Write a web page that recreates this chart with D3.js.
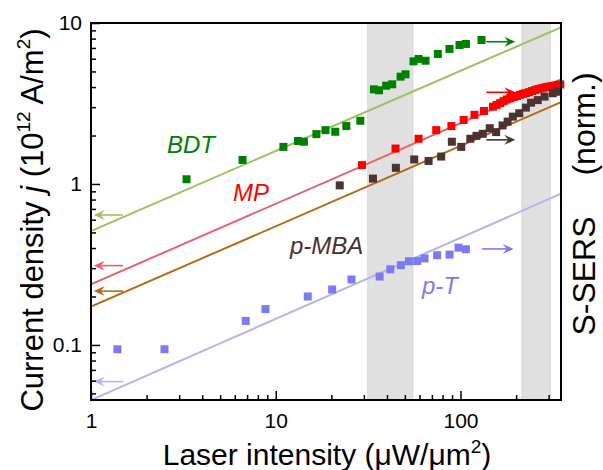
<!DOCTYPE html>
<html><head><meta charset="utf-8">
<script src="https://cdn.jsdelivr.net/npm/d3@7"></script>
<style>body{margin:0;background:#fff}svg{display:block}</style>
</head><body><svg id="c" width="603" height="470"></svg>
<script>
// ---- data ----
const xMajor = [1, 10, 100];
const yMajor = [0.1, 1, 10];
const xMinor = [2,3,4,5,6,7,8,9,20,30,40,50,60,70,80,90,200,300];
const yMinor = [0.05,0.06,0.07,0.08,0.09,0.2,0.3,0.4,0.5,0.6,0.7,0.8,0.9,2,3,4,5,6,7,8,9];

const bands = [[31.5, 55.2], [215, 306]];

const bdtX = [3.29, 6.61, 11.0, 13.2, 14.2, 16.6, 18.6, 21.0, 24.1, 28.7, 34.0, 36.2, 39.6, 42.7, 47.4, 50.4, 55.7, 59.3, 64.7, 75.4, 87.2, 98.8, 107, 130];
const bdtY = [1.07, 1.41, 1.70, 1.85, 1.83, 2.04, 2.16, 2.11, 2.29, 2.47, 3.87, 3.82, 4.08, 4.16, 4.64, 4.80, 5.78, 5.98, 5.83, 6.42, 6.90, 7.30, 7.41, 7.84];

const mpX = [29.3, 44.5, 59.3, 73.9, 89.3, 104, 119, 134, 150, 157, 164, 171, 178, 186, 194, 202, 210, 218, 226, 235, 244, 253, 262, 272, 282, 292, 303, 314, 326, 338, 347];
const mpY = [1.31, 1.66, 1.91, 2.16, 2.29, 2.50, 2.69, 2.84, 3.02, 3.10, 3.18, 3.27, 3.35, 3.40, 3.47, 3.52, 3.58, 3.63, 3.67, 3.72, 3.78, 3.83, 3.88, 3.92, 3.96, 4.00, 4.03, 4.06, 4.09, 4.12, 4.15];

const mbaX = [22.2, 33.6, 44.7, 56.2, 67.2, 78.6, 89.8, 101, 113, 122, 132, 144, 156, 169, 180, 192, 208, 226, 241, 262, 285, 316, 336];
const mbaY = [0.98, 1.08, 1.26, 1.42, 1.39, 1.48, 1.83, 1.70, 1.91, 1.99, 2.05, 2.22, 2.10, 2.31, 2.44, 2.62, 2.75, 2.98, 3.20, 3.32, 3.49, 3.66, 3.74];

const ptX = [1.39, 2.50, 6.88, 8.80, 14.9, 20.2, 25.7, 36.5, 41.7, 47.6, 52.6, 58.3, 63.9, 74.8, 87.3, 97.6, 107];
const ptY = [0.094, 0.094, 0.141, 0.167, 0.200, 0.221, 0.255, 0.266, 0.295, 0.313, 0.331, 0.332, 0.345, 0.361, 0.364, 0.402, 0.393];

// fit lines: [x, y] endpoints
const fitBDT = [[1, 0.51], [350, 9.4]];
const fitMP  = [[1, 0.238], [350, 4.47]];
const fitMBA = [[1, 0.173], [350, 3.22]];
const fitPT  = [[1, 0.0455], [350, 0.87]];

// arrows: [xTail, xTip, y]
const leftArrows  = [[1.49, 1.035, 0.642], [1.49, 1.035, 0.311], [1.49, 1.035, 0.216], [1.49, 1.035, 0.0592]];
const rightArrows = [[138, 198, 7.65], [138, 198, 3.71], [138, 198, 1.88], [131, 194, 0.395]];

const series = [
  {name:"BDT", x:bdtX, y:bdtY, fit:fitBDT, mark:"#008000", line:"#9cc45c", text:"#008000", lab:[167, 153]},
  {name:"p-T", x:ptX, y:ptY, fit:fitPT, mark:"#7b7bf0", line:"#b4b4f2", text:"#7b7bf0", lab:[422, 294]},
  {name:"MP", x:mpX, y:mpY, fit:fitMP, mark:"#ff0000", line:"#e8636c", text:"#ff0000", lab:[233, 201]},
  {name:"p-MBA", x:mbaX, y:mbaY, fit:fitMBA, mark:"#4d3232", line:"#b86a14", text:"#4a2f2f", lab:[290, 254]}
];

// ---- drawing ----
const svg = d3.select("#c");
const FONT = "'Liberation Sans', Arial, sans-serif";
const L = 91, R = 561, T = 23, B = 400;
const x = d3.scaleLog().domain([1, 350]).range([L, R]);
const y = d3.scaleLog().domain([0.0455, 10]).range([B, T]);

// bands
svg.selectAll("rect.band").data(bands).enter().append("rect")
  .attr("x", d => x(d[0])).attr("width", d => x(d[1]) - x(d[0]))
  .attr("y", T).attr("height", B - T)
  .attr("fill", "#e0e0e0").attr("stroke", "#d6d6d6").attr("stroke-width", 1);

svg.append("clipPath").attr("id","clp").append("rect")
  .attr("x", L).attr("y", T).attr("width", R-L).attr("height", B-T);

// fit lines
const lineGen = d3.line().x(d => x(d[0])).y(d => y(d[1]));
series.forEach(s => {
  svg.append("path").attr("d", lineGen(s.fit)).attr("fill","none")
    .attr("stroke", s.line).attr("stroke-width", 2).attr("clip-path","url(#clp)");
});

// markers
const S = 8;
series.forEach(s => {
  svg.append("g").selectAll("rect").data(s.x.map((v,i)=>[v, s.y[i]])).enter().append("rect")
    .attr("x", d => x(d[0]) - S/2).attr("y", d => y(d[1]) - S/2)
    .attr("width", S).attr("height", S).attr("fill", s.mark);
});

// arrows
function arrow(x1, x2, yy, color) {
  const X1 = x(x1), X2 = x(x2), Y = y(yy);
  const dir = X2 > X1 ? 1 : -1;
  svg.append("line").attr("x1", X1).attr("x2", X2 - dir*4).attr("y1", Y).attr("y2", Y)
    .attr("stroke", color).attr("stroke-width", 1.6);
  const p = d3.path();
  p.moveTo(X2, Y);
  p.lineTo(X2 - dir*11, Y - 5);
  p.lineTo(X2 - dir*7, Y);
  p.lineTo(X2 - dir*11, Y + 5);
  p.closePath();
  svg.append("path").attr("d", p.toString()).attr("fill", color);
}
const lineOrder = [series[0], series[2], series[3], series[1]];
leftArrows.forEach((a,i) => arrow(a[0], a[1], a[2], lineOrder[i].line));
rightArrows.forEach((a,i) => arrow(a[0], a[1], a[2], lineOrder[i].mark));

// labels
series.forEach(s => {
  svg.append("text").attr("x", s.lab[0]).attr("y", s.lab[1]).text(s.name)
    .attr("font-family", FONT).attr("font-style","italic").attr("font-size", 24)
    .attr("fill", s.text);
});

// axes
function styleAxis(g){ g.select(".domain").remove(); g.selectAll("line").attr("stroke","#000").attr("stroke-width",1.5); g.selectAll("text").attr("font-family",FONT).attr("font-size",21).attr("fill","#000"); }
svg.append("g").attr("transform",`translate(${L},0)`)
  .call(d3.axisLeft(y).tickValues(yMinor).tickSizeInner(-5).tickSizeOuter(0).tickFormat(""))
  .call(styleAxis);
svg.append("g").attr("transform",`translate(${L},0)`)
  .call(d3.axisLeft(y).tickValues(yMajor).tickSizeInner(-9).tickSizeOuter(0).tickPadding(9).tickFormat(d => d === 0.1 ? "0.1" : String(d)))
  .call(styleAxis);
svg.append("g").attr("transform",`translate(0,${B})`)
  .call(d3.axisBottom(x).tickValues(xMinor).tickSizeInner(-5).tickSizeOuter(0).tickFormat(""))
  .call(styleAxis);
svg.append("g").attr("transform",`translate(0,${B})`)
  .call(d3.axisBottom(x).tickValues(xMajor).tickSizeInner(-9).tickSizeOuter(0).tickPadding(13).tickFormat(d => String(d)))
  .call(styleAxis);

// frame
svg.append("rect").attr("x", L).attr("y", T).attr("width", R-L).attr("height", B-T)
  .attr("fill","none").attr("stroke","#000").attr("stroke-width",2);

// axis titles
const xt = svg.append("text").attr("x", 327).attr("y", 465).attr("text-anchor","middle")
  .attr("font-family", FONT).attr("font-size", 30).attr("fill","#000");
xt.append("tspan").text("Laser intensity (\u03bcW/\u03bcm");
xt.append("tspan").attr("font-size", 19).attr("dy", -12).text("2");
xt.append("tspan").attr("dy", 12).text(")");

const yt = svg.append("text").attr("transform","translate(43,220) rotate(-90)").attr("text-anchor","middle")
  .attr("font-family", FONT).attr("font-size", 31).attr("fill","#000");
yt.append("tspan").text("Current density ");
yt.append("tspan").attr("font-style","italic").text("j");
yt.append("tspan").text(" (10");
yt.append("tspan").attr("font-size", 19).attr("dy", -13).text("12");
yt.append("tspan").attr("dy", 13).text(" A/m");
yt.append("tspan").attr("font-size", 19).attr("dy", -13).text("2");
yt.append("tspan").attr("dy", 13).text(")");

svg.append("text").attr("transform","translate(595,276) rotate(-90)").attr("text-anchor","middle")
  .attr("font-family", FONT).attr("font-size", 32).attr("fill","#000").text("S-SERS");
svg.append("text").attr("transform","translate(595,124) rotate(-90)").attr("text-anchor","middle")
  .attr("font-family", FONT).attr("font-size", 32).attr("fill","#000").text("(norm.)");
</script>
</body></html>
